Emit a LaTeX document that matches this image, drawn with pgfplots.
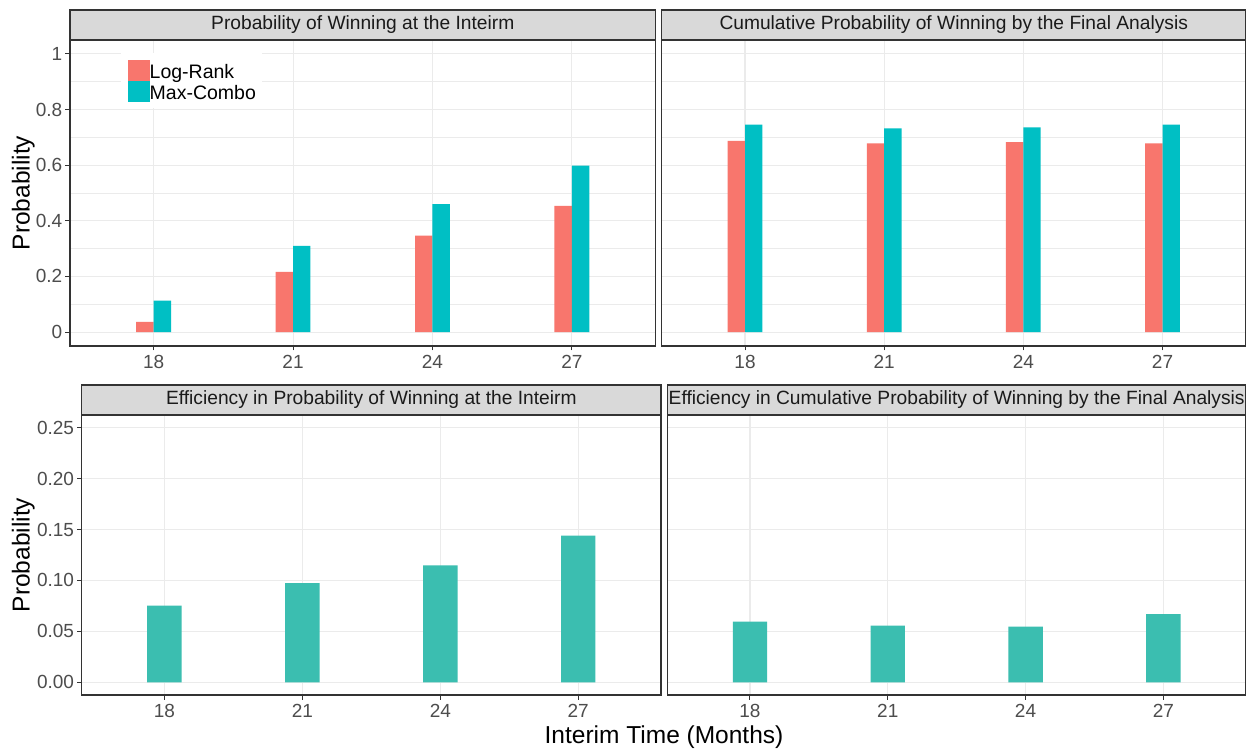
\documentclass[border=0pt]{standalone}
\usepackage{pgfplots}
\pgfplotsset{compat=1.18}
\usepackage{fontspec}
\setmainfont{Liberation Sans}
\definecolor{lrc}{HTML}{F8766D}
\definecolor{mcc}{HTML}{00BFC4}
\definecolor{effc}{RGB}{59,190,176}
\definecolor{gridc}{HTML}{EBEBEB}
\definecolor{borderc}{HTML}{333333}
\definecolor{stripc}{HTML}{D9D9D9}
\definecolor{tickc}{HTML}{4D4D4D}
\definecolor{striptext}{HTML}{1A1A1A}
\newcommand{\ticksize}{\fontsize{19}{22}\selectfont}
\newcommand{\stripsize}{\fontsize{19.2}{22}\selectfont}
\newcommand{\titlesize}{\fontsize{24.5}{28}\selectfont}

\pgfplotstableread{
x lr mc
1 0.037 0.113
2 0.216 0.310
3 0.347 0.460
4 0.454 0.598
}\interimtab
\pgfplotstableread{
x lr mc
1 0.687 0.746
2 0.678 0.732
3 0.683 0.736
4 0.678 0.746
}\finaltab
\pgfplotstableread{
x eff
1 0.0752
2 0.0974
3 0.1147
4 0.1441
}\effinterimtab
\pgfplotstableread{
x eff
1 0.0595
2 0.0556
3 0.0546
4 0.0670
}\efffinaltab

\pgfplotsset{
  panel/.style={
    scale only axis,
    anchor=south west,
    axis background/.style={fill=white},
    axis line style={draw=borderc, line width=1.1pt},
    xmin=0.4, xmax=4.6,
    xtick={1,2,3,4}, xticklabels={18,21,24,27},
    xtick pos=bottom, ytick pos=left,
    tick align=outside,
    major tick length=4.5pt,
    minor tick length=0pt,
    tick style={draw=borderc, line width=1pt},
    xmajorgrids, ymajorgrids,
    major grid style={draw=gridc, line width=1.1pt},
    minor grid style={draw=gridc, line width=0.8pt},
    ticklabel style={font=\ticksize, text=tickc},
    /pgf/number format/assume math mode=true,
    xticklabel style={inner sep=0pt, yshift=-5pt},
    yticklabel style={inner sep=0pt, xshift=-3pt},
    enlargelimits=false,
  },
  toppanel/.style={
    panel, width=585.5pt, height=306pt,
    ymin=-0.05, ymax=1.05,
    ytick={0,0.2,0.4,0.6,0.8,1},
    minor ytick={0.1,0.3,0.5,0.7,0.9},
    yminorgrids,
    ybar=0pt, bar width=0.125,
  },
  botpanel/.style={
    panel, width=579.3pt, height=280pt,
    ymin=-0.0125, ymax=0.2625,
    ytick={0,0.05,0.10,0.15,0.20,0.25},
    ybar=0pt, bar width=0.25,
  },
  lrkey/.style={legend image code/.code={\fill[lrc] (0pt,-10.5pt) rectangle (22pt,10.5pt);}},
  mckey/.style={legend image code/.code={\fill[mcc] (0pt,-10.5pt) rectangle (22pt,10.5pt);}},
}

\begin{document}
\begin{tikzpicture}[x=1pt,y=1pt]
\useasboundingbox (0,0) rectangle (1246,749);
\fill[white] (0,0) rectangle (1246,749);

% ---------- top left ----------
\begin{axis}[toppanel, name=tl, at={(70pt,403pt)},
  yticklabels={0,0.2,0.4,0.6,0.8,1},
  legend style={at={(0.0871,0.9575)}, anchor=north west, draw=none, fill=white,
    inner sep=6.5pt, row sep=0pt, column sep=0pt,
    font=\fontsize{19.5}{22}\selectfont, text=black,
    nodes={inner sep=0pt, text height=18.5pt, text depth=2.5pt}},
  legend cell align=left,
  ]
\addplot[fill=lrc, draw=none, lrkey] table[x=x, y=lr] {\interimtab};
\addlegendentry{Log-Rank}
\addplot[fill=mcc, draw=none, mckey] table[x=x, y=mc] {\interimtab};
\addlegendentry{Max-Combo}
\end{axis}
\draw[fill=stripc, draw=borderc, line width=1.1pt] (tl.north west) rectangle ([yshift=30pt]tl.north east);
\node[font=\stripsize, text=striptext] at ([yshift=15pt]tl.north) {Probability of Winning at the Inteirm};

% ---------- top right ----------
\begin{axis}[toppanel, name=tr, at={(661.5pt,403pt)}, width=584.5pt,
  yticklabels={}, ytick style={draw=none}]
\addplot[fill=lrc, draw=none] table[x=x, y=lr] {\finaltab};
\addplot[fill=mcc, draw=none] table[x=x, y=mc] {\finaltab};
\end{axis}
\draw[fill=stripc, draw=borderc, line width=1.1pt] (tr.north west) rectangle ([yshift=30pt]tr.north east);
\node[font=\stripsize, text=striptext] at ([yshift=15pt]tr.north) {Cumulative Probability of Winning by the Final Analysis};

% ---------- bottom left ----------
\begin{axis}[botpanel, name=bl, at={(81.7pt,54pt)},
  yticklabels={0.00,0.05,0.10,0.15,0.20,0.25}]
\addplot[fill=effc, draw=none] table[x=x, y=eff] {\effinterimtab};
\end{axis}
\draw[fill=stripc, draw=borderc, line width=1.1pt] (bl.north west) rectangle ([yshift=30pt]bl.north east);
\node[font=\stripsize, text=striptext] at ([yshift=15pt]bl.north) {Efficiency in Probability of Winning at the Inteirm};

% ---------- bottom right ----------
\begin{axis}[botpanel, name=br, at={(667.3pt,54pt)}, width=578.7pt,
  yticklabels={}, ytick style={draw=none}]
\addplot[fill=effc, draw=none] table[x=x, y=eff] {\efffinaltab};
\end{axis}
\draw[fill=stripc, draw=borderc, line width=1.1pt] (br.north west) rectangle ([yshift=30pt]br.north east);
\node[font=\stripsize, text=striptext] at ([yshift=15pt]br.north) {Efficiency in Cumulative Probability of Winning by the Final Analysis};

% ---------- axis titles ----------
\node[font=\titlesize, rotate=90, anchor=base] at (29.5,556) {Probability};
\node[font=\titlesize, rotate=90, anchor=base] at (29.5,194) {Probability};
\node[font=\titlesize, anchor=base] at (664,5.7) {Interim Time (Months)};
\end{tikzpicture}
\end{document}
